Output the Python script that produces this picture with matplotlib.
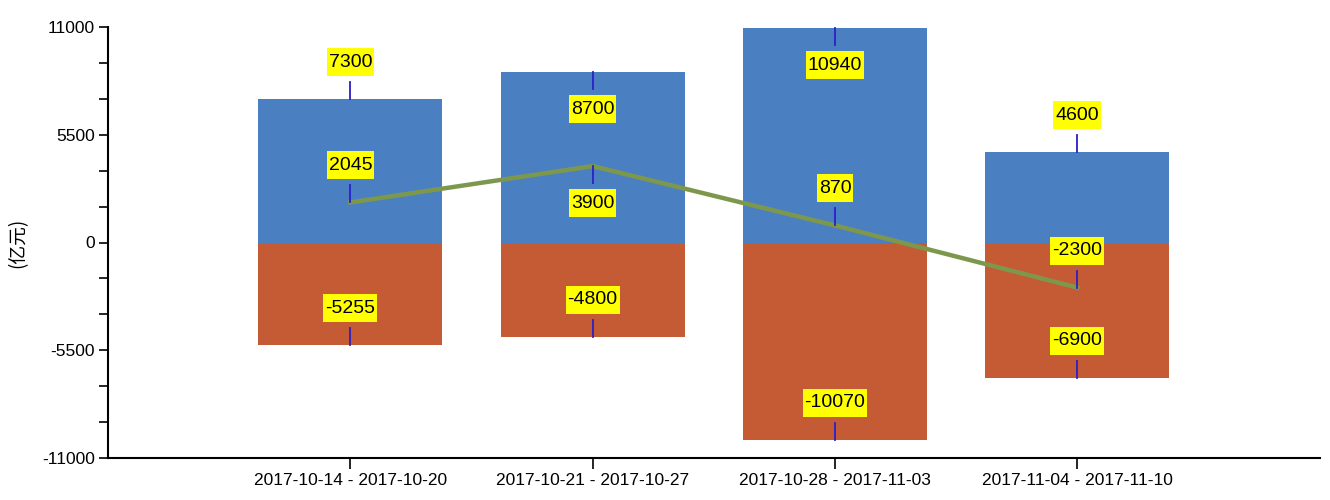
import matplotlib
matplotlib.use("Agg")
import matplotlib.pyplot as plt
from matplotlib.patches import Rectangle
from matplotlib.lines import Line2D
from matplotlib.transforms import IdentityTransform
import numpy as np

categories = ["2017-10-14 - 2017-10-20", "2017-10-21 - 2017-10-27",
              "2017-10-28 - 2017-11-03", "2017-11-04 - 2017-11-10"]
inflow = [7300, 8700, 10940, 4600]
outflow = [-5255, -4800, -10070, -6900]
net = [2045, 3900, 870, -2300]
y_ticks = [-11000, -5500, 0, 5500, 11000]
y_label = "(亿元)"

# label placement style: +1 above point, -1 below
dir_in = [1, -1, -1, 1]
dir_out = [1, 1, 1, 1]
dir_net = [1, -1, 1, 1]

FONT = ['Liberation Sans', 'DejaVu Sans']
plt.rcParams['font.family'] = FONT

fig = plt.figure(figsize=(13.3, 5.0), dpi=100)
ax = fig.add_axes([0.0812, 0.084, 0.911, 0.862])

x = np.arange(len(categories))
blue = "#4a80c2"
orange = "#c55b34"
olive = "#7d984c"
ax.bar(x, inflow, width=0.76, color=blue, zorder=2)
ax.bar(x, outflow, width=0.76, color=orange, zorder=2)
ax.plot(x, net, color=olive, lw=3.2, zorder=3)

ax.set_xlim(-1, 4)
ax.set_ylim(-11000, 11000)
ax.set_xticks(x)
ax.set_xticklabels(categories, fontsize=12.5)
ax.set_yticks(y_ticks)
ax.set_yticklabels([str(v) for v in y_ticks], fontsize=12.5)
ax.set_yticks(np.linspace(-11000, 11000, 13), minor=True)
ax.tick_params(axis='y', which='both', direction='out', length=6.5, width=1.2, color='black', pad=3)
ax.tick_params(axis='x', direction='out', length=8, width=1.2, color='black', pad=3)
for s in ['top', 'right']:
    ax.spines[s].set_visible(False)
for s in ['left', 'bottom']:
    ax.spines[s].set_linewidth(1.5)

ax.set_ylabel(y_label, family=['Noto Sans CJK SC', 'DejaVu Sans'], fontsize=13.5)
ax.yaxis.set_label_coords(-0.066, 0.5)

fig.canvas.draw()
renderer = fig.canvas.get_renderer()
ident = IdentityTransform()
OFFSET = 37      # px from point to label centre
LEADER = 17      # px leader line length

def label(xi, yi, d):
    px, py = ax.transData.transform((xi, yi))
    cy = py + d * OFFSET
    t = ax.text(px, cy, str(yi), transform=ident, ha='center', va='center',
                fontsize=14, color='black', zorder=6)
    ext = t.get_window_extent(renderer)
    w = ext.width + 4
    h = 28
    ax.add_patch(Rectangle((px - w / 2, cy - h / 2), w, h, transform=ident,
                           facecolor='#ffff00', edgecolor='none', zorder=5))
    ax.add_line(Line2D([px, px], [py, py + d * LEADER], transform=ident,
                       color='#2a1fc8', lw=1.3, zorder=5))

for i in range(len(categories)):
    label(x[i], inflow[i], dir_in[i])
    label(x[i], outflow[i], dir_out[i])
    label(x[i], net[i], dir_net[i])

fig.savefig("out.png", dpi=100)
